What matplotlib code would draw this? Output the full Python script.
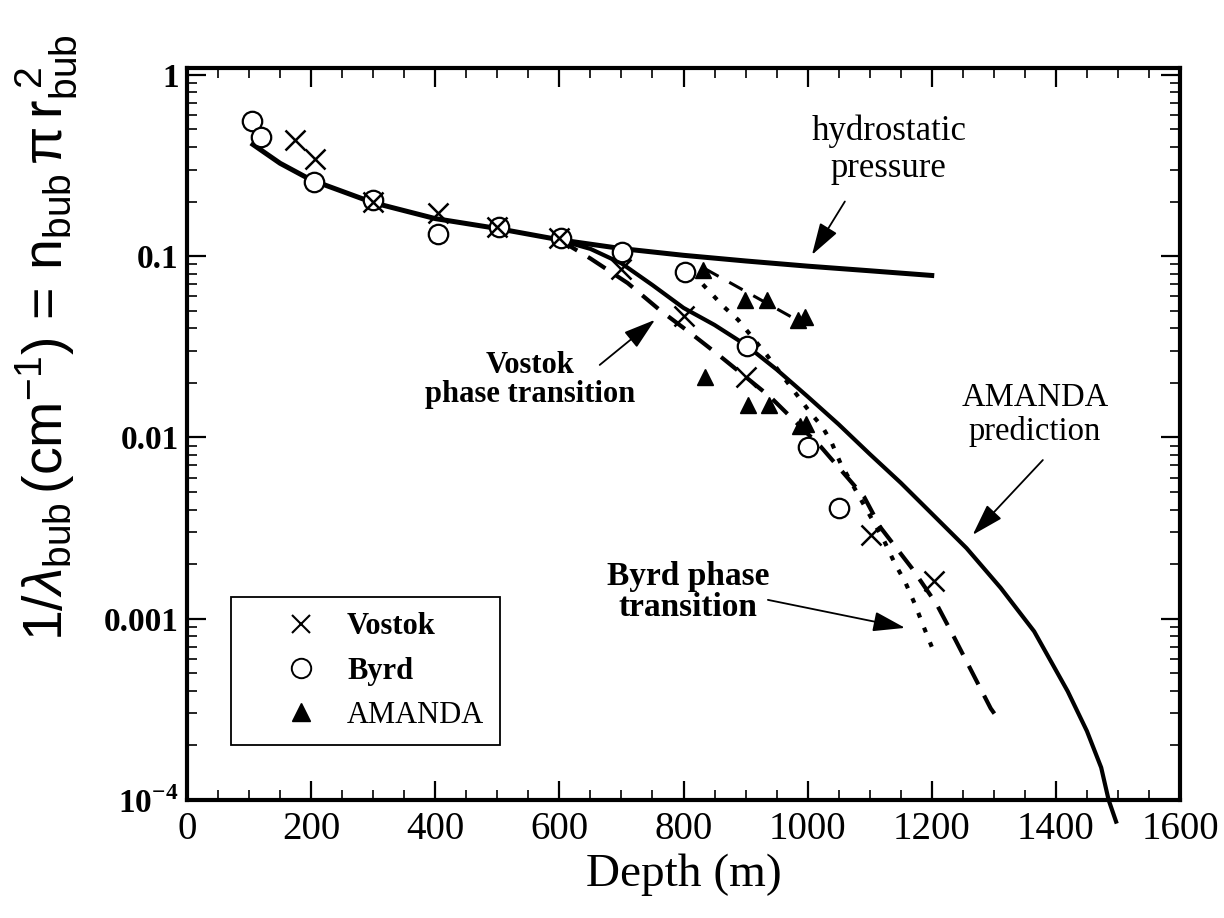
import matplotlib
matplotlib.use("Agg")
import matplotlib.pyplot as plt
from matplotlib.lines import Line2D
from matplotlib.ticker import FixedLocator, FixedFormatter, LogLocator, MultipleLocator, NullFormatter

plt.rcParams['font.family'] = ['Liberation Serif', 'DejaVu Serif']
plt.rcParams['mathtext.fontset'] = 'custom'
plt.rcParams['mathtext.rm'] = 'Liberation Sans'
plt.rcParams['mathtext.it'] = 'Liberation Sans:italic'
plt.rcParams['mathtext.bf'] = 'Liberation Serif:bold'

# --- data (depth in m, 1/lambda in cm^-1) ---
vostok_depth = [174, 206, 300, 404, 500, 600, 700, 800, 900, 1102, 1204]
vostok_val = [0.437, 0.342, 0.200, 0.172, 0.145, 0.126, 0.085, 0.047, 0.0216, 0.0029, 0.00162]

byrd_depth = [104, 119, 205, 300, 404, 502, 602, 701, 803, 903, 1000, 1050]
byrd_val = [0.557, 0.456, 0.257, 0.204, 0.133, 0.145, 0.126, 0.106, 0.082, 0.032, 0.0089, 0.0041]

amanda_depth = [832, 899, 934, 985, 995, 835, 904, 937, 988, 998]
amanda_val = [0.084, 0.0574, 0.0574, 0.0445, 0.0460, 0.0216, 0.0151, 0.0151, 0.0115, 0.0119]

hydro_depth = [103, 150, 200, 300, 400, 500, 600, 700, 800, 900, 1000, 1100, 1204]
hydro_val = [0.42, 0.325, 0.263, 0.197, 0.161, 0.142, 0.123, 0.110, 0.101, 0.094, 0.088, 0.083, 0.078]

pred_depth = [600, 650, 700, 750, 800, 850, 900, 950, 1000, 1050, 1100, 1150, 1200,
              1256, 1311, 1365, 1419, 1450, 1473, 1485, 1497]
pred_val = [0.1225, 0.1096, 0.0912, 0.0692, 0.0518, 0.0417, 0.0324, 0.0237, 0.0168, 0.0118,
            0.0081, 0.00562, 0.0038, 0.00245, 0.00148, 0.000851, 0.000398, 0.00024,
            0.000151, 0.0001, 0.000076]

vtrans_depth = [600, 650, 710, 763, 814, 857, 940, 1021, 1091, 1117, 1168, 1208, 1236, 1295, 1307]
vtrans_val = [0.123, 0.097, 0.071, 0.050, 0.037, 0.0284, 0.0167, 0.0089, 0.0047, 0.0032,
              0.0019, 0.0012, 0.00079, 0.00032, 0.00028]

btrans_depth = [810, 829, 865, 888, 934, 1005, 1024, 1039, 1053, 1123, 1141, 1157, 1173, 1186, 1200]
btrans_val = [0.078, 0.071, 0.0525, 0.0445, 0.0285, 0.0136, 0.0114, 0.0093, 0.0072, 0.0027,
              0.0020, 0.0016, 0.0012, 0.00092, 0.0007]

afit_depth = [835, 990]
afit_val = [0.085, 0.043]

ytick_vals = [1e-4, 1e-3, 1e-2, 1e-1, 1]
ytick_labels = ['10$^{\\mathbf{-4}}$', '0.001', '0.01', '0.1', '1']
xtick_vals = list(range(0, 1601, 200))

fig = plt.figure(figsize=(12.24, 9.18), dpi=100)
ax = fig.add_axes([187 / 1224, 118 / 918, 993 / 1224, 732 / 918])

ax.plot(hydro_depth, hydro_val, color='black', lw=3.6, solid_capstyle='butt', zorder=2)
ax.plot(pred_depth, pred_val, color='black', lw=3.0, zorder=2, clip_on=False)
ax.plot(vtrans_depth, vtrans_val, color='black', lw=3.0, ls=(0, (5, 3)), zorder=2)
ax.plot(btrans_depth, btrans_val, color='black', lw=3.0, ls=(0, (1.2, 2.6)), zorder=2)
ax.plot(afit_depth, afit_val, color='black', lw=2.2, ls=(0, (5, 4)), zorder=2)

ax.plot(byrd_depth, byrd_val, ls='none', marker='o', ms=14, mfc='white', mec='black', mew=1.6, zorder=3)
ax.plot(vostok_depth, vostok_val, ls='none', marker='x', ms=14, mec='black', mew=1.8, zorder=4)
ax.plot(amanda_depth, amanda_val, ls='none', marker='^', ms=12, mfc='black', mec='black', zorder=4)

ax.set_yscale('log')
ax.set_xlim(0, 1600)
ax.set_ylim(1e-4, 1.09)

ax.yaxis.set_major_locator(FixedLocator(ytick_vals))
ax.yaxis.set_major_formatter(FixedFormatter(ytick_labels))
ax.yaxis.set_minor_locator(LogLocator(base=10, subs=range(2, 10)))
ax.yaxis.set_minor_formatter(NullFormatter())
ax.set_xticks(xtick_vals)
ax.xaxis.set_minor_locator(MultipleLocator(50))

ax.tick_params(which='both', direction='in', top=True, right=True)
ax.tick_params(which='major', length=14, width=1.6)
ax.tick_params(which='minor', length=7, width=1.2)
ax.tick_params(axis='y', which='major', labelsize=24, pad=6)
ax.tick_params(axis='x', which='major', labelsize=28, pad=8)
for lab in ax.get_yticklabels():
    lab.set_fontweight('bold')
for sp in ax.spines.values():
    sp.set_linewidth(3)

ax.set_xlabel('Depth (m)', fontsize=34, labelpad=4)
fig.text(46 / 1224, 1 - 338 / 918,
         r'$1/\lambda_{\rm bub}\,(\rm cm^{-1})\, = \,n_{\rm bub}\,\pi\, r_{\rm bub}^{\,\,2}$',
         rotation=90, ha='center', va='center', fontsize=40)

arrow = dict(arrowstyle='-|>,head_length=0.9,head_width=0.28', color='black', lw=1.3,
             shrinkA=0, shrinkB=0, mutation_scale=22)
ax.text(1131, 0.386, 'hydrostatic\npressure', fontsize=25, ha='center', va='center', linespacing=1.15)
ax.annotate('', xy=(1007, 0.1016), xytext=(1060, 0.20), arrowprops=arrow)

ax.text(553, 0.0208, 'Vostok\nphase transition', fontsize=22, fontweight='bold',
        ha='center', va='center', linespacing=1.0)
ax.annotate('', xy=(754, 0.0445), xytext=(665, 0.0251), arrowprops=arrow)

ax.text(1366, 0.0133, 'AMANDA\nprediction', fontsize=23.5, ha='center', va='center', linespacing=1.1)
ax.annotate('', xy=(1266, 0.0029), xytext=(1379, 0.0075), arrowprops=arrow)

ax.text(807, 0.0014, 'Byrd phase\ntransition', fontsize=24, fontweight='bold',
        ha='center', va='center', linespacing=1.0)
ax.annotate('', xy=(1157, 0.00089), xytext=(936, 0.00127), arrowprops=arrow)

handles = [
    Line2D([], [], ls='none', marker='x', ms=13, mec='black', mew=1.5),
    Line2D([], [], ls='none', marker='o', ms=14, mfc='white', mec='black', mew=1.4),
    Line2D([], [], ls='none', marker='^', ms=13, mfc='black', mec='black'),
]
leg = ax.legend(handles, ['Vostok', 'Byrd', 'AMANDA'], loc='upper left',
                bbox_to_anchor=(231 / 1224, 1 - 597 / 918), bbox_transform=fig.transFigure,
                borderaxespad=0, fancybox=False, framealpha=1, edgecolor='black',
                prop={'size': 22, 'weight': 'bold'}, borderpad=0.5, labelspacing=0.5,
                handlelength=3.6, handletextpad=-0.3)
leg.get_frame().set_linewidth(1.3)
leg.get_texts()[2].set_fontweight('normal')

fig.savefig('out.png', dpi=100)
